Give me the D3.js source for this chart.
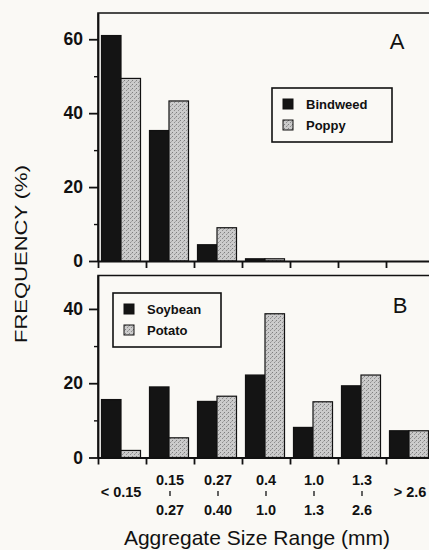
<!DOCTYPE html>
<html>
<head>
<meta charset="utf-8">
<script src="https://cdn.jsdelivr.net/npm/d3@7"></script>
<style>
  body { margin: 0; background: #faf9f5; }
  svg { display: block; font-family: "Liberation Sans", Arial, sans-serif; }
  .axis path, .axis line { stroke: #111; }
  .axis text { fill: #111; }
</style>
</head>
<body>
<script>
// size classes (mm)
var categories = ["<0.15", "0.15-0.27", "0.27-0.40", "0.4-1.0", "1.0-1.3", "1.3-2.6", ">2.6"];
var tickLabels = [["< 0.15"], ["0.15", "0.27"], ["0.27", "0.40"], ["0.4", "1.0"], ["1.0", "1.3"], ["1.3", "2.6"], ["> 2.6"]];

// panel A
var bindweed = [61, 35.3, 4.4, 0.6, 0, 0, 0];
var poppy = [49.4, 43.3, 9, 0.6, 0, 0, 0];
// panel B
var soybean = [15.6, 19, 15.1, 22.2, 8.1, 19.3, 7.2];
var potato = [1.9, 5.3, 16.5, 38.7, 15, 22.2, 7.2];

var yTicksA = [0, 20, 40, 60];
var yTicksB = [0, 20, 40];

var w = 429, h = 550;
var left = 98, step = 48;

var svg = d3.select("body").append("svg")
    .attr("width", w)
    .attr("height", h);

var defs = svg.append("defs");
var pat = defs.append("pattern")
    .attr("id", "stipple")
    .attr("patternUnits", "userSpaceOnUse")
    .attr("width", 4).attr("height", 4);
pat.append("rect").attr("width", 4).attr("height", 4).attr("fill", "#cbcbcb");
pat.append("rect").attr("x", 0).attr("y", 0).attr("width", 1).attr("height", 1).attr("fill", "#7e7e7e");
pat.append("rect").attr("x", 2).attr("y", 2).attr("width", 1).attr("height", 1).attr("fill", "#8e8e8e");
pat.append("rect").attr("x", 3).attr("y", 1).attr("width", 1).attr("height", 1).attr("fill", "#a6a6a6");

var x = d3.scaleBand()
    .domain(categories)
    .range([left, left + step * categories.length]);

var xEdge = d3.scaleLinear()
    .domain([0, categories.length])
    .range([left, left + step * categories.length]);

var sub = d3.scaleBand()
    .domain([0, 1])
    .range([3.5, 42.5]);

function panel(opts) {
  var y = d3.scaleLinear().domain(opts.domain).range(opts.range);
  var g = svg.append("g");

  // frame (top + left; bottom is the axis, right is off the page)
  g.append("path")
      .attr("d", "M" + (w + 10) + "," + opts.range[1] + "H" + left + "V" + opts.range[0])
      .attr("fill", "none")
      .attr("stroke", "#111")
      .attr("stroke-width", 1.6);

  // minor ticks
  g.append("g")
      .attr("class", "axis")
      .attr("transform", "translate(" + left + ",0)")
      .call(d3.axisLeft(y).tickValues(opts.minor).tickSize(4).tickFormat(""))
      .call(function(a) { a.select(".domain").remove(); a.selectAll("line").attr("stroke-width", 1.4); });

  g.append("g")
      .attr("class", "axis")
      .attr("transform", "translate(" + left + ",0)")
      .call(d3.axisLeft(y).tickValues(opts.ticks).tickSize(9).tickSizeOuter(0).tickPadding(6))
      .call(function(a) {
        a.select(".domain").attr("stroke-width", 1.8);
        a.selectAll("line").attr("stroke-width", 1.8);
        a.selectAll("text").attr("font-size", 17.5).attr("font-weight", "bold");
      });

  var series = [opts.a, opts.b];
  series.forEach(function(vals, si) {
    g.selectAll(".bar" + si)
      .data(vals)
      .enter().append("rect")
        .attr("x", function(d, i) { return x(categories[i]) + sub(si); })
        .attr("width", sub.bandwidth())
        .attr("y", function(d) { return y(d); })
        .attr("height", function(d) { return y(0) - y(d); })
        .attr("fill", si === 0 ? "#141414" : "url(#stipple)")
        .attr("stroke", "#111")
        .attr("stroke-width", 1.2);
  });

  g.append("g")
      .attr("class", "axis")
      .attr("transform", "translate(0," + y(0) + ")")
      .call(d3.axisBottom(xEdge).tickValues(d3.range(0, categories.length + 1)).tickSize(7).tickSizeOuter(0).tickFormat(""))
      .call(function(a) {
        a.select(".domain").attr("stroke-width", 2);
        a.selectAll("line").attr("stroke-width", 1.8);
      });

  // panel letter
  g.append("text")
      .attr("x", opts.letterX).attr("y", opts.letterY)
      .attr("text-anchor", "middle")
      .attr("font-size", 22)
      .attr("fill", "#111")
      .text(opts.letter);

  // legend
  var lg = g.append("g").attr("transform", "translate(" + opts.legend[0] + "," + opts.legend[1] + ")");
  lg.append("rect")
      .attr("width", opts.legend[2]).attr("height", 54)
      .attr("fill", "none").attr("stroke", "#111").attr("stroke-width", 1.6);
  opts.names.forEach(function(n, i) {
    lg.append("rect")
        .attr("x", 11).attr("y", 11 + i * 21)
        .attr("width", 10).attr("height", 10)
        .attr("fill", i === 0 ? "#141414" : "url(#stipple)")
        .attr("stroke", "#111").attr("stroke-width", 1);
    lg.append("text")
        .attr("x", 34).attr("y", 21 + i * 21)
        .attr("font-size", 13).attr("font-weight", "bold")
        .attr("fill", "#111")
        .text(n);
  });
  return y;
}

panel({
  domain: [0, 67.1], range: [261, 13],
  ticks: yTicksA, minor: [10, 30, 50],
  a: bindweed, b: poppy,
  letter: "A", letterX: 397, letterY: 49,
  legend: [272, 88, 120], names: ["Bindweed", "Poppy"]
});

panel({
  domain: [0, 49], range: [457.5, 275.5],
  ticks: yTicksB, minor: [10, 30],
  a: soybean, b: potato,
  letter: "B", letterX: 400, letterY: 313,
  legend: [113, 293, 108], names: ["Soybean", "Potato"]
});

// size class labels
var lab = svg.append("g")
    .attr("font-size", 14.5)
    .attr("font-weight", "bold")
    .attr("fill", "#111")
    .attr("text-anchor", "middle");

tickLabels.forEach(function(t, i) {
  var cx = x(categories[i]) + x.bandwidth() / 2;
  if (t.length === 1) {
    lab.append("text").attr("x", cx + (i === 0 ? -1 : 0)).attr("y", 497).text(t[0]);
  } else {
    lab.append("text").attr("x", cx).attr("y", 485).text(t[0]);
    lab.append("line")
        .attr("x1", cx).attr("x2", cx)
        .attr("y1", 491).attr("y2", 496)
        .attr("stroke", "#111").attr("stroke-width", 1.3);
    lab.append("text").attr("x", cx).attr("y", 515).text(t[1]);
  }
});

svg.append("text")
    .attr("x", 257).attr("y", 545)
    .attr("text-anchor", "middle")
    .attr("font-size", 21)
    .attr("fill", "#111")
    .text("Aggregate Size Range (mm)");

svg.append("text")
    .attr("transform", "translate(27,254) rotate(-90)")
    .attr("text-anchor", "middle")
    .attr("font-size", 17)
    .attr("fill", "#111")
    .attr("textLength", 178)
    .attr("lengthAdjust", "spacingAndGlyphs")
    .text("FREQUENCY (%)");
</script>
</body>
</html>
